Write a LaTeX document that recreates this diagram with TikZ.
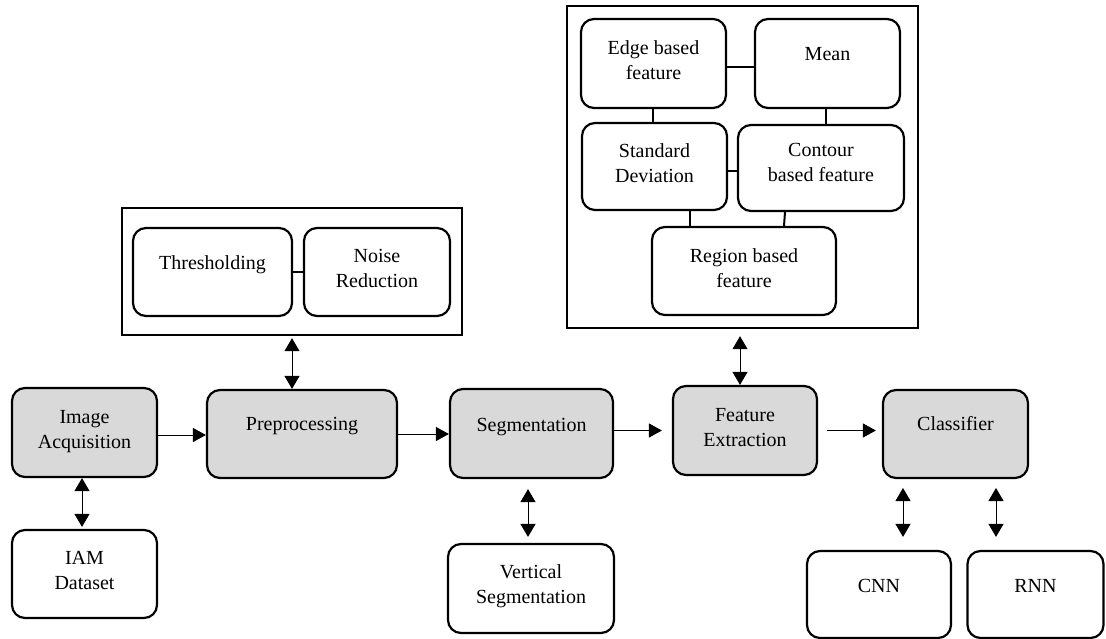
\documentclass[tikz,border=0pt]{standalone}
\usepackage{fontspec}
\setmainfont{Liberation Serif}
\usetikzlibrary{arrows.meta,calc}
\tikzset{
  box/.style={draw=black, line width=2.2pt, rounded corners=13pt, fill=white, inner sep=0pt},
  gbox/.style={box, fill=boxgray},
  outer/.style={draw=black, line width=2.4pt, inner sep=0pt},
  txt/.style={anchor=north, inner sep=0pt, align=center, font=\fontsize{20}{25}\selectfont, execute at begin node=\strut},
  arr/.style={line width=1pt, -{Triangle[length=13pt,width=14pt]}},
  darr/.style={line width=1pt, {Triangle[length=13pt,width=15pt]}-{Triangle[length=13pt,width=15pt]}},
  link/.style={line width=2pt},
}
\definecolor{boxgray}{HTML}{D9D9D9}
\begin{document}
\begin{tikzpicture}[x=1pt,y=-1pt]
\useasboundingbox (0,0) rectangle (1106,639);
% main row
\node[gbox, minimum width=145pt, minimum height=89pt] (ia) at (84.5,432.5) {};
\node[gbox, minimum width=190pt, minimum height=88pt] (pre) at (302,434) {};
\node[gbox, minimum width=163pt, minimum height=89pt] (seg) at (531.5,433.5) {};
\node[gbox, minimum width=144pt, minimum height=89pt] (fe) at (745,430.5) {};
\node[gbox, minimum width=145pt, minimum height=88pt] (cl) at (955.5,434) {};
% bottom row
\node[box, minimum width=145pt, minimum height=88pt] (iam) at (84.5,574) {};
\node[box, minimum width=166pt, minimum height=89pt] (vs) at (531,588.5) {};
\node[box, minimum width=144pt, minimum height=87pt] (cnn) at (879,594.5) {};
\node[box, minimum width=136pt, minimum height=87pt] (rnn) at (1035.5,594.5) {};
% preprocessing group
\node[outer, minimum width=340pt, minimum height=127pt] (preout) at (292,271.5) {};
\node[box, minimum width=159pt, minimum height=88pt] (thr) at (212.5,272) {};
\node[box, minimum width=146pt, minimum height=88pt] (noise) at (377,272) {};
% feature group
\node[outer, minimum width=351pt, minimum height=322pt] (feout) at (742.5,167) {};
\node[box, minimum width=145pt, minimum height=89pt] (edge) at (653.5,63.5) {};
\node[box, minimum width=145pt, minimum height=89pt] (mean) at (827.5,63.5) {};
\node[box, minimum width=145pt, minimum height=87pt] (std) at (654.5,166.5) {};
\node[box, minimum width=166pt, minimum height=86pt] (cont) at (821,168) {};
\node[box, minimum width=184pt, minimum height=88pt] (reg) at (744,271) {};
% texts
\node[txt] (ia-t) at ([yshift=-23.5pt]ia.north) {Image\\Acquisition};
\node[txt] (pre-t) at ([yshift=-24pt]pre.north) {Preprocessing};
\node[txt] (seg-t) at ([yshift=-26pt]seg.north) {Segmentation};
\node[txt] (fe-t) at ([yshift=-23.5pt]fe.north) {Feature\\Extraction};
\node[txt] (cl-t) at ([yshift=-24pt]cl.north) {Classifier};
\node[txt] (iam-t) at ([yshift=-22.5pt]iam.north) {IAM\\Dataset};
\node[txt] (vs-t) at ([yshift=-21.5pt]vs.north) {Vertical\\Segmentation};
\node[txt] (cnn-t) at ([yshift=-25pt]cnn.north) {CNN};
\node[txt] (rnn-t) at ([yshift=-25pt]rnn.north) {RNN};
\node[txt] (thr-t) at ([yshift=-25pt]thr.north) {Thresholding};
\node[txt] (noise-t) at ([yshift=-22.5pt]noise.north) {Noise\\Reduction};
\node[txt] (edge-t) at ([yshift=-23pt]edge.north) {Edge based\\feature};
\node[txt] (mean-t) at ([yshift=-25pt]mean.north) {Mean};
\node[txt] (std-t) at ([yshift=-21.5pt]std.north) {Standard\\Deviation};
\node[txt] (cont-t) at ([yshift=-19.5pt]cont.north) {Contour\\based feature};
\node[txt] (reg-t) at ([yshift=-23pt]reg.north) {Region based\\feature};
% flow arrows
\draw[arr] ([yshift=-2.5pt]ia.east) -- ([yshift=-2.5pt]ia.east -| pre.west);
\draw[arr] (pre.east) -- (pre.east -| seg.west);
\draw[arr] (seg.east |- fe) -- ([xshift=-10pt]fe.west);
\draw[arr] ([xshift=9pt]fe.east) -- ([xshift=-6pt]fe.east -| cl.west);
% double arrows
\draw[darr] ([xshift=-2.5pt]ia.south) -- ([xshift=-2.5pt,yshift=2pt]ia.south |- iam.north);
\draw[darr] ([yshift=-2pt]preout.south) -- (preout.south |- pre.north);
\draw[darr] ([xshift=-2.5pt,yshift=-7pt]feout.south) -- ([xshift=-2.5pt]feout.south |- fe.north);
\draw[darr] ([xshift=-3.5pt,yshift=-10pt]seg.south) -- ([xshift=-3.5pt,yshift=6pt]seg.south |- vs.north);
\coordinate (c1) at (903,488);
\coordinate (c2) at (996,488);
\draw[darr] (c1) -- ([yshift=13pt]c1 |- cnn.north);
\draw[darr] (c2) -- ([yshift=13pt]c2 |- rnn.north);
% inner links
\draw[link] (thr.east) -- (thr.east -| noise.west);
\draw[link] (edge.east |- 0,67) -- (mean.west |- 0,67);
\draw[link] (653,0 |- edge.south) -- (653,0 |- std.north);
\draw[link] (826,0 |- mean.south) -- (826,0 |- cont.north);
\draw[link] (std.east |- 0,171) -- (cont.west |- 0,171);
\draw[link] (690,0 |- std.south) -- (690,0 |- reg.north);
\draw[link] (785,0 |- cont.south) -- (784,0 |- reg.north);
\end{tikzpicture}
\end{document}
